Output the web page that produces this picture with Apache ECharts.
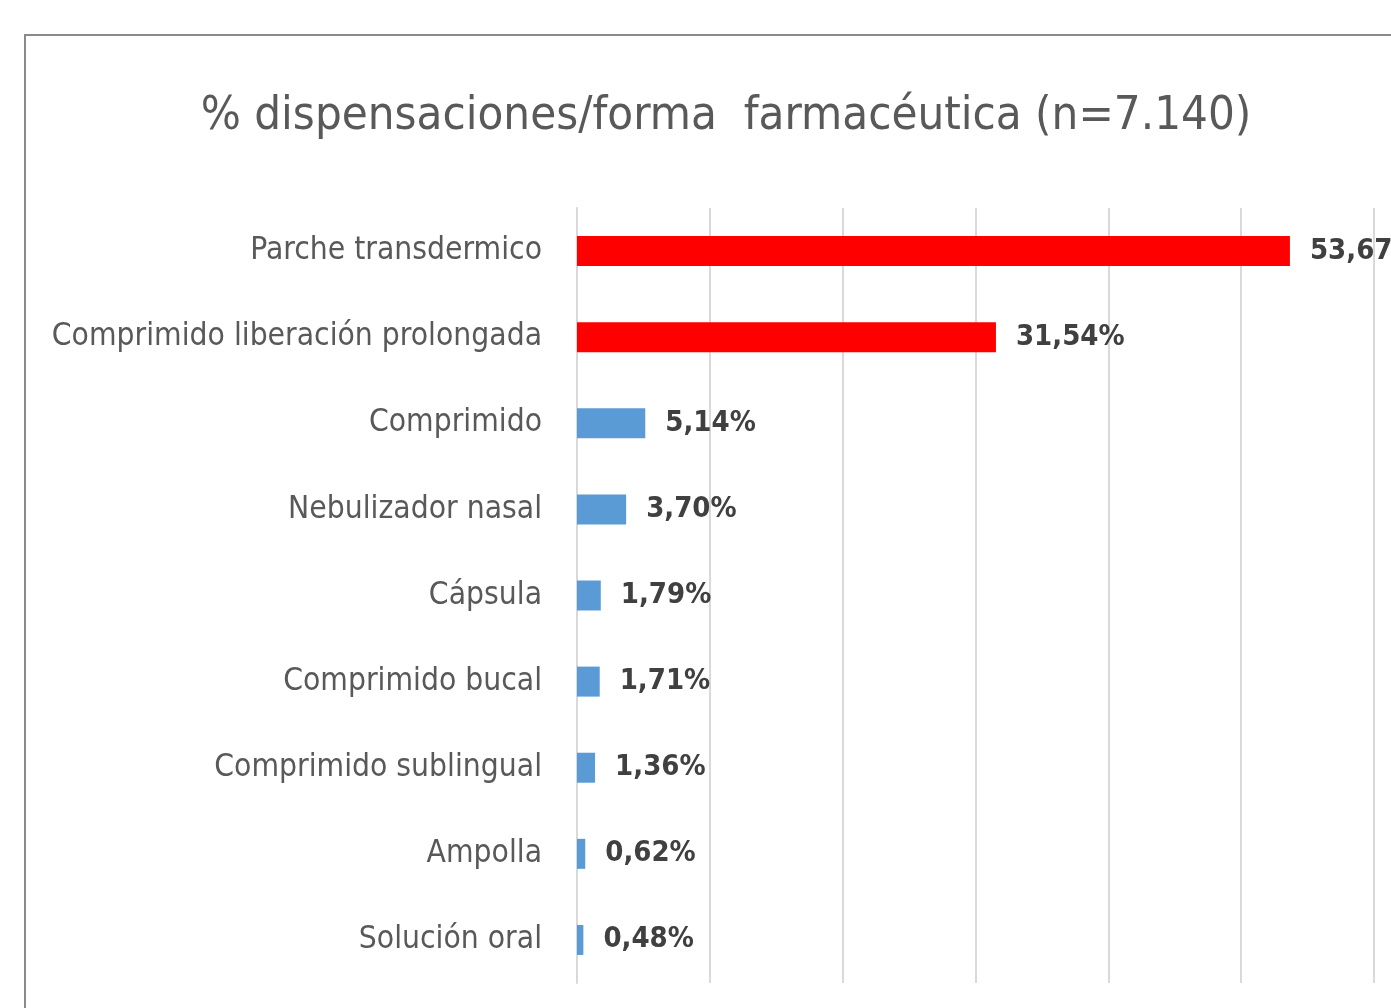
<!DOCTYPE html>
<html>
<head>
<meta charset="utf-8">
<script src="https://cdn.jsdelivr.net/npm/echarts@6/dist/echarts.min.js"></script>
<style>
html,body{margin:0;padding:0;background:#fff;}
#main{width:1391px;height:1008px;}
</style>
</head>
<body>
<div id="main"></div>
<script>
// datos
var categorias = ['Parche transdermico', 'Comprimido liberación prolongada', 'Comprimido', 'Nebulizador nasal',
	'Cápsula', 'Comprimido bucal', 'Comprimido sublingual', 'Ampolla', 'Solución oral'];
var valores = [53.67, 31.54, 5.14, 3.70, 1.79, 1.71, 1.36, 0.62, 0.48];
var colores = ['#FF0000', '#FF0000', '#5B9BD5', '#5B9BD5', '#5B9BD5', '#5B9BD5', '#5B9BD5', '#5B9BD5', '#5B9BD5'];

var fuente = '"Liberation Sans Narrow", "DejaVu Sans Condensed", sans-serif';

var seriesData = [];
for (var i = 0; i < valores.length; i++) {
	seriesData.push({ value: valores[i], itemStyle: { color: colores[i] } });
}

var myChart = echarts.init(document.getElementById('main'));
var option = {
	animation: false,
	title: {
		text: '% dispensaciones/forma  farmacéutica (n=7.140)',
		left: 721,
		textAlign: 'center',
		top: 88,
		textStyle: { fontFamily: fuente, fontSize: 47, fontWeight: 'normal', color: '#595959' }
	},
	graphic: [
		{
			type: 'rect',
			shape: { x: 25, y: 35, width: 1420, height: 1020 },
			style: { fill: 'none', stroke: '#8a8a8a', lineWidth: 2 },
			silent: true
		}
	],
	grid: {
		left: 577,
		right: 17,
		top: 208,
		bottom: 25,
		outerBoundsMode: 'none',
		containLabel: false
	},
	xAxis: {
		type: 'value',
		min: 0,
		max: 60,
		interval: 10,
		axisLabel: { show: false },
		axisLine: { show: false },
		axisTick: { show: false },
		splitLine: { show: true, lineStyle: { color: '#d9d9d9', width: 2 } }
	},
	yAxis: {
		type: 'category',
		inverse: true,
		data: categorias,
		axisTick: { show: false },
		axisLine: { show: true, lineStyle: { color: '#d9d9d9', width: 2 } },
		axisLabel: { fontFamily: fuente, fontSize: 31.5, color: '#595959', margin: 35 }
	},
	series: [
		{
			type: 'bar',
			data: seriesData,
			barWidth: 30,
			label: {
				show: true,
				position: 'right',
				distance: 20,
				fontFamily: fuente,
				fontSize: 29,
				fontWeight: 'bold',
				color: '#404040',
				formatter: function (p) {
					return p.value.toFixed(2).replace('.', ',') + '%';
				}
			}
		}
	]
};
myChart.setOption(option);
</script>
</body>
</html>
